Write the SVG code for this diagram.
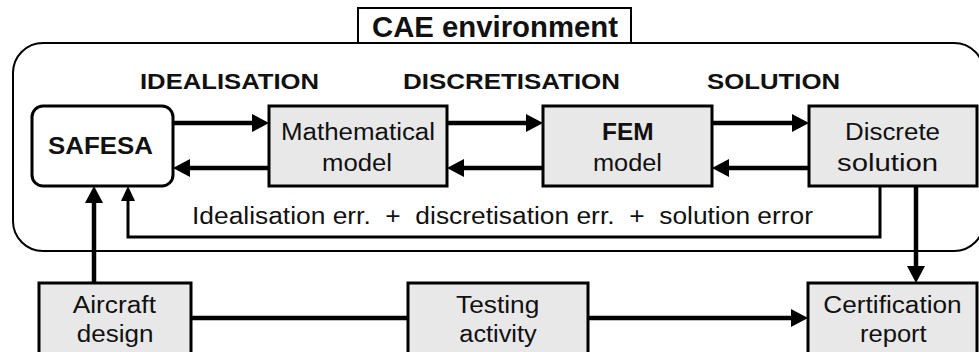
<svg xmlns="http://www.w3.org/2000/svg" width="979" height="352" viewBox="0 0 979 352">
<style>
.t{font-family:"Liberation Sans",Arial,Helvetica,sans-serif;font-size:23px;fill:#111;}
.b{font-weight:bold;}
.box{fill:#e8e8e8;stroke:#000;stroke-width:3;}
.wbox{fill:#fff;stroke:#000;stroke-width:3;}
.ln{fill:none;stroke:#000;stroke-width:4.5;}
.thin{fill:none;stroke:#000;stroke-width:3;}
</style>
<defs>
<marker id="ah" markerUnits="userSpaceOnUse" markerWidth="18" markerHeight="18" refX="7" refY="9" orient="auto" viewBox="0 0 18 18">
<path d="M0,0 L17,9 L0,18 Z" fill="#000"/>
</marker>
<marker id="ahs" markerUnits="userSpaceOnUse" markerWidth="16" markerHeight="14" refX="6" refY="7" orient="auto" viewBox="0 0 16 14">
<path d="M0,0 L15,7 L0,14 Z" fill="#000"/>
</marker>
</defs>

<g id="cae-environment">
<rect x="13" y="43" width="971" height="208" rx="30" ry="30" fill="#fff" stroke="#000" stroke-width="2"/>
<rect x="358" y="8" width="273" height="35" fill="#fff" stroke="#000" stroke-width="2"/>
<text class="t b" x="372" y="37" style="font-size:29px" textLength="246" lengthAdjust="spacingAndGlyphs">CAE environment</text>
</g>

<g id="stage-labels">
<text class="t b" x="140" y="88.5" style="font-size:22.5px" textLength="179" lengthAdjust="spacingAndGlyphs">IDEALISATION</text>
<text class="t b" x="403" y="88.5" style="font-size:22.5px" textLength="217" lengthAdjust="spacingAndGlyphs">DISCRETISATION</text>
<text class="t b" x="707" y="88.5" style="font-size:22.5px" textLength="133" lengthAdjust="spacingAndGlyphs">SOLUTION</text>
</g>

<g id="connectors">
<line class="ln" x1="173" y1="123" x2="259" y2="123" marker-end="url(#ah)"/>
<line class="ln" x1="447" y1="123" x2="533" y2="123" marker-end="url(#ah)"/>
<line class="ln" x1="712" y1="123" x2="799" y2="123" marker-end="url(#ah)"/>
<line class="ln" x1="269" y1="168" x2="183" y2="168" marker-end="url(#ah)"/>
<line class="ln" x1="543" y1="168" x2="457" y2="168" marker-end="url(#ah)"/>
<line class="ln" x1="809" y1="168" x2="722" y2="168" marker-end="url(#ah)"/>
<polyline class="thin" points="880,186 880,237 128,237 128,195" marker-end="url(#ahs)"/>
<line class="ln" x1="94" y1="283" x2="94" y2="196" marker-end="url(#ah)"/>
<line class="ln" x1="916" y1="186" x2="916" y2="273" marker-end="url(#ah)"/>
<line class="ln" x1="191" y1="318" x2="408" y2="318"/>
<line class="ln" x1="588" y1="318" x2="798" y2="318" marker-end="url(#ah)"/>
<text class="t" x="192" y="224" xml:space="preserve" textLength="621" lengthAdjust="spacingAndGlyphs">Idealisation err.  +  discretisation err.  +  solution error</text>
</g>

<g id="safesa">
<rect class="wbox" x="32" y="106" width="141" height="80" rx="11" ry="11"/>
<text class="t b" x="48" y="154" textLength="105" lengthAdjust="spacingAndGlyphs">SAFESA</text>
</g>

<g id="mathematical-model">
<rect class="box" x="269" y="106" width="178" height="80"/>
<text class="t" x="281" y="140" textLength="154" lengthAdjust="spacingAndGlyphs">Mathematical</text>
<text class="t" x="322" y="170.5" textLength="70" lengthAdjust="spacingAndGlyphs">model</text>
</g>

<g id="fem-model">
<rect class="box" x="543" y="106" width="169" height="80"/>
<text class="t b" x="602" y="140" textLength="51.5" lengthAdjust="spacingAndGlyphs">FEM</text>
<text class="t" x="593" y="170.5" textLength="69" lengthAdjust="spacingAndGlyphs">model</text>
</g>

<g id="discrete-solution">
<rect class="box" x="809" y="106" width="168" height="80"/>
<text class="t" x="845" y="140" textLength="95" lengthAdjust="spacingAndGlyphs">Discrete</text>
<text class="t" x="837" y="170.5" textLength="101" lengthAdjust="spacingAndGlyphs">solution</text>
</g>

<g id="aircraft-design">
<rect class="box" x="39" y="283" width="152" height="80"/>
<text class="t" x="72.7" y="312.5" textLength="83.3" lengthAdjust="spacingAndGlyphs">Aircraft</text>
<text class="t" x="76.7" y="342" textLength="76.7" lengthAdjust="spacingAndGlyphs">design</text>
</g>

<g id="testing-activity">
<rect class="box" x="408" y="283" width="180" height="80"/>
<text class="t" x="456" y="312.5" textLength="83.3" lengthAdjust="spacingAndGlyphs">Testing</text>
<text class="t" x="459.3" y="342" textLength="77.4" lengthAdjust="spacingAndGlyphs">activity</text>
</g>

<g id="certification-report">
<rect class="box" x="808" y="283" width="169" height="80"/>
<text class="t" x="823.3" y="312.5" textLength="138.4" lengthAdjust="spacingAndGlyphs">Certification</text>
<text class="t" x="860" y="342" textLength="66.7" lengthAdjust="spacingAndGlyphs">report</text>
</g>
</svg>
